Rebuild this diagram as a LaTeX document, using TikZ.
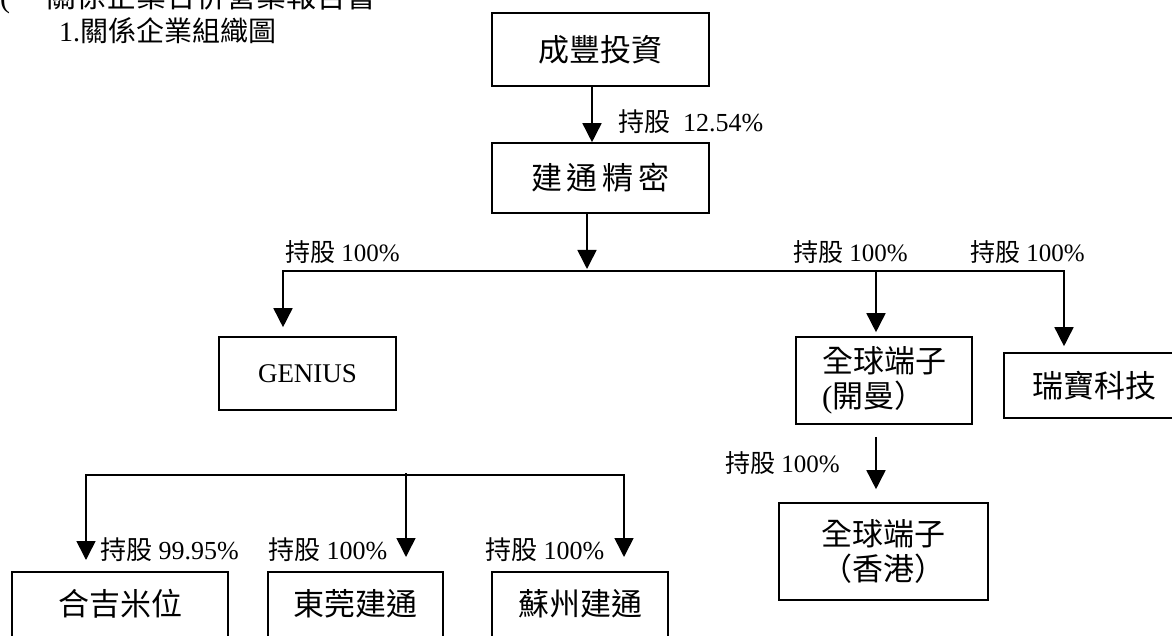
\documentclass[tikz,border=0pt]{standalone}
\usepackage{fontspec}
\setmainfont{Liberation Serif}
\newfontfamily\cjk{Noto Sans CJK TC}
\usetikzlibrary{arrows.meta,calc}
\tikzset{
  box/.style={draw, line width=1.6pt, inner sep=0pt, font=\cjk\fontsize{31}{35}\selectfont},
  lowbox/.style={box, anchor=north, text height=44pt, text depth=40pt, inner ysep=0pt},
  arr/.style={line width=1.6pt, -{Triangle[width=19pt,length=19pt]}},
  ln/.style={line width=1.6pt, line cap=rect},
  lab/.style={inner sep=0pt, anchor=west, font=\fontsize{25}{28}\selectfont},
  lab2/.style={lab, font=\fontsize{26}{28}\selectfont},
}
\begin{document}
\begin{tikzpicture}[x=1pt,y=-1pt]
\useasboundingbox (0,0) rectangle (1172,636);
% headings
\node[anchor=base west, inner sep=0pt, font=\fontsize{30}{32}\selectfont] (hdr) at (0,8) {(\hspace{36pt}{\cjk 關係企業合併營業報告書}};
\node[anchor=base west, inner sep=0pt, font=\fontsize{28}{30}\selectfont] (ttl) at (59,42) {1.{\cjk 關係企業組織圖}};
% boxes
\node[box, minimum width=217pt, minimum height=73pt] (A) at (600.5,49.5) {成豐投資};
\node[box, minimum width=217pt, minimum height=70pt] (B) at (600.5,178) {建\hspace{5pt}通\hspace{5pt}精\hspace{5pt}密};
\node[box, minimum width=177pt, minimum height=73pt, font=\rmfamily\fontsize{27}{30}\selectfont] (C) at (307.5,373.5) {GENIUS};
\node[box, minimum width=176pt, minimum height=87pt, align=left] (D) at (884,380.5) {全球端子\\{\rmfamily(}開曼）};
\node[box, minimum width=180pt, minimum height=65pt] (E) at (1094,385.5) {瑞寶科技};
\node[box, minimum width=209pt, minimum height=97pt, align=center] (F) at (883.5,551.5) {全球端子\\（香港）};
\node[lowbox, minimum width=216pt] (G) at (120,571) {合吉米位};
\node[lowbox, minimum width=175pt] (H) at (355.5,571) {東莞建通};
\node[lowbox, minimum width=176pt] (I) at (580,571) {蘇州建通};
% labels
\node[lab2] (l0) at (618,122) {{\cjk 持股}\ \ 12.54\%};
\node[lab] (l1) at (285,252) {{\cjk 持股} 100\%};
\node[lab] (l2) at (793,252) {{\cjk 持股} 100\%};
\node[lab] (l3) at (970,252) {{\cjk 持股} 100\%};
\node[lab] (l4) at (725,463) {{\cjk 持股} 100\%};
\node[lab2] (l5) at (100,550) {{\cjk 持股} 99.95\%};
\node[lab2] (l6) at (268,550) {{\cjk 持股} 100\%};
\node[lab2] (l7) at (485,550) {{\cjk 持股} 100\%};
% connectors
\coordinate (a1) at (592,0);
\draw[arr] (A.south -| a1) -- (B.north -| a1);
\coordinate (hub) at (587,269);
\draw[arr] (B.south -| hub) -- (hub);
\coordinate (hL) at (283,271);
\coordinate (hD) at (876,271);
\coordinate (hR) at (1064,271);
\draw[ln] (hL) -- (hR);
\draw[arr, shorten >=9pt] (hL) -- (hL |- C.north);
\draw[arr, shorten >=4pt] (hD) -- (hD |- D.north);
\draw[arr, shorten >=6pt] (hR) -- (hR |- E.north);
\draw[arr, shorten <=12pt, shorten >=13pt] (D.south -| hD) -- (F.north -| hD);
\coordinate (bL) at (86,475);
\coordinate (bM) at (406,473);
\coordinate (bR) at (624,475);
\draw[ln] (bL) -- (bR);
\draw[arr, shorten >=11pt] (bL) -- (bL |- G.north);
\draw[arr, shorten >=14pt] (bM) -- (bM |- H.north);
\draw[arr, shorten >=14pt] (bR) -- (bR |- I.north);
\end{tikzpicture}
\end{document}
